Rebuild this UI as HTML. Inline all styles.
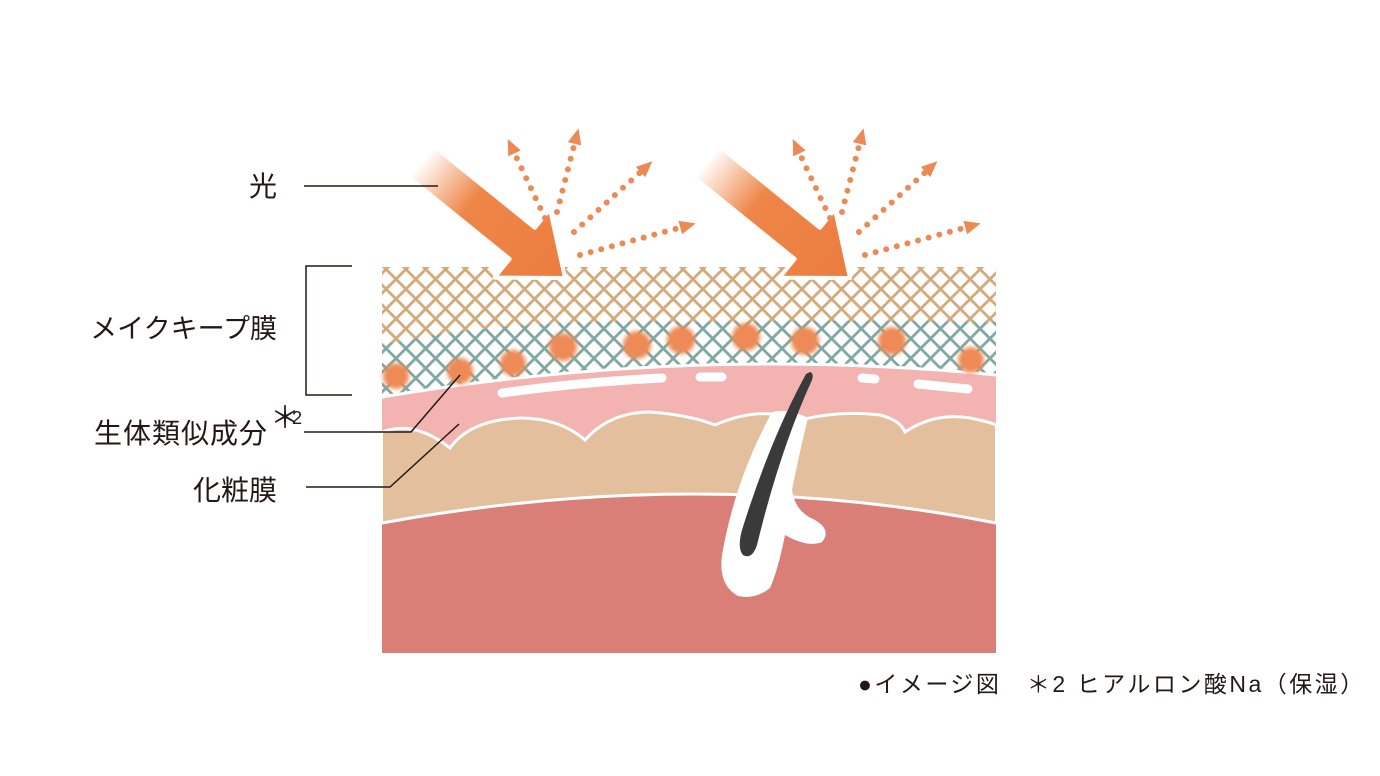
<!DOCTYPE html>
<html><head><meta charset="utf-8"><style>
html,body{margin:0;padding:0;background:#fff;width:1380px;height:776px;overflow:hidden}
svg{display:block}
text{font-family:"Liberation Sans","Noto Sans CJK JP",sans-serif;fill:#231815}
</style></head><body>
<svg width="1380" height="776" viewBox="0 0 1380 776">
<defs>
<pattern id="pt" width="14" height="14" patternUnits="userSpaceOnUse" patternTransform="rotate(45)">
<rect width="14" height="14" fill="#fff"/>
<rect x="0" y="0" width="2.8" height="14" fill="#d4a97a"/>
<rect x="0" y="0" width="14" height="2.8" fill="#d4a97a"/>
</pattern>
<pattern id="pg" width="14" height="14" patternUnits="userSpaceOnUse" patternTransform="rotate(45)">
<rect width="14" height="14" fill="#fff"/>
<rect x="0" y="0" width="2.8" height="14" fill="#7ea8a1"/>
<rect x="0" y="0" width="14" height="2.8" fill="#7ea8a1"/>
</pattern>
<linearGradient id="ga" x1="0" y1="0" x2="1" y2="0">
<stop offset="0" stop-color="#ee8648" stop-opacity="0"/>
<stop offset="0.35" stop-color="#ee8648"/>
<stop offset="1" stop-color="#ec7c40"/>
</linearGradient>
<filter id="bl"><feGaussianBlur stdDeviation="2"/></filter>
<marker id="mh" markerWidth="16" markerHeight="16" refX="6" refY="8" orient="auto" markerUnits="userSpaceOnUse">
<path d="M0,1 L16,8 L0,15 Z" fill="#ec8a55"/></marker>
</defs>

<rect x="382" y="267" width="614" height="130" fill="url(#pt)"/>
<path d="M382,345 Q500,318 690,322 Q850,320 996,322 L996,400 L382,400 Z" fill="url(#pg)"/>

<rect x="382" y="470" width="614" height="183" fill="#d97f78"/>
<path d="M382,432 Q415,420 450,448 Q470,420 520,418 Q560,418 585,440 Q610,412 650,412 Q690,415 715,425 Q760,405 800,420 Q840,410 880,415 Q900,420 905,432 Q935,412 970,418 Q990,422 996,425 L996,523 Q700,465 382,523 Z" fill="#e3bf9e" stroke="#fff" stroke-width="2"/>
<path d="M382,523 Q700,465 996,523" fill="none" stroke="#fff" stroke-width="3"/>
<path d="M382,397 Q690,345 996,375 L996,425 Q990,422 970,418 Q935,412 905,432 Q900,420 880,415 Q840,410 800,420 Q760,405 715,425 Q690,415 650,412 Q610,412 585,440 Q560,418 520,418 Q470,420 450,448 Q415,420 382,432 Z" fill="#f2b3b1"/>
<path d="M382,397 Q690,345 996,375" fill="none" stroke="#fff" stroke-width="3"/>
<path d="M382,432 Q415,420 450,448 Q470,420 520,418 Q560,418 585,440 Q610,412 650,412 Q690,415 715,425 Q760,405 800,420 Q840,410 880,415 Q900,420 905,432 Q935,412 970,418 Q990,422 996,425" fill="none" stroke="#fff" stroke-width="3"/>
<g stroke="#fff" stroke-width="9" stroke-linecap="round" fill="none">
<path d="M502,393 Q580,382 662,378"/>
<path d="M700,377 L722,377"/>
<path d="M862,378 L875,379"/>
<path d="M918,384 L968,389"/>
</g>

<path d="M772,412 Q790,408 808,418 Q800,450 792,490 Q795,512 815,520 Q832,530 822,542 Q808,548 785,535 Q778,570 770,588 Q755,600 738,596 Q718,585 722,555 Q735,480 772,412 Z" fill="#fff"/>
<path d="M810,372 Q814,373 812,380 Q780,450 757,545 Q752,560 743,555 Q737,548 742,530 Q770,440 806,374 Z" fill="#3a3a3a"/>

<g fill="#ee8a55" filter="url(#bl)">
<circle cx="396" cy="376" r="13"/><circle cx="460" cy="371" r="13"/><circle cx="513" cy="363" r="13"/>
<circle cx="563" cy="347" r="14"/><circle cx="637" cy="345" r="14"/><circle cx="681" cy="340" r="14"/>
<circle cx="746" cy="337" r="14"/><circle cx="805" cy="341" r="14"/><circle cx="892" cy="341" r="14"/><circle cx="971" cy="360" r="13"/>
</g>

<g transform="translate(565,278) rotate(39)">
<path d="M-185,-20 L-55,-20 L-55,-44 L0,0 L-55,44 L-55,20 L-185,20 Z" fill="url(#ga)" stroke="#fff" stroke-width="4" stroke-linejoin="round"/>
</g>
<g transform="translate(850,278) rotate(39)">
<path d="M-185,-20 L-55,-20 L-55,-44 L0,0 L-55,44 L-55,20 L-185,20 Z" fill="url(#ga)" stroke="#fff" stroke-width="4" stroke-linejoin="round"/>
</g>

<g stroke="#ec8a55" stroke-width="6" stroke-linecap="round" stroke-dasharray="0 11" fill="none" marker-end="url(#mh)">
<path d="M545,218 L512,148"/><path d="M557,212 L576,138"/><path d="M574,232 L645,168"/><path d="M580,255 L686,226"/>
<path d="M830,218 L797,148"/><path d="M842,212 L861,138"/><path d="M859,232 L930,168"/><path d="M865,255 L971,226"/>
</g>

<g stroke="#231815" stroke-width="1.5" fill="none">
<path d="M304,186 L438,186"/>
<path d="M352,266 L306,266 L306,395 L352,395"/>
<path d="M304,432 L411,432 L460,375"/>
<path d="M306,487 L390,487 L459,424"/>
</g>

<text x="277" y="196" font-size="28" text-anchor="end">光</text>
<text x="277" y="338" font-size="27" text-anchor="end">メイクキープ膜</text>
<text x="94" y="443" font-size="28" letter-spacing="1">生体類似成分</text>
<text x="270" y="428" font-size="30">＊</text>
<text x="292" y="424" font-size="18">2</text>
<text x="277" y="500" font-size="28" text-anchor="end">化粧膜</text>
<text x="858" y="692" font-size="23" letter-spacing="2.5">●イメージ図　＊2  ヒアルロン酸Na（保湿）</text>
</svg>
</body></html>
